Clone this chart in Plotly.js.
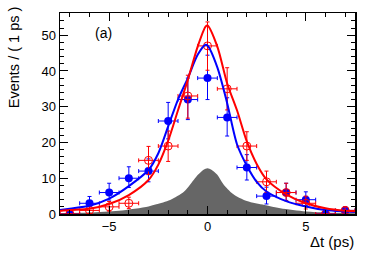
<!DOCTYPE html>
<html>
<head>
<meta charset="utf-8">
<script src="https://cdn.plot.ly/plotly-3.0.1.min.js"></script>
<style>html,body{margin:0;padding:0;background:#fff;}#chart{width:374px;height:255px;}</style>
</head>
<body>
<div id="chart"></div>
<script>
// Bin centres (ps)
const binCenters = [-7, -6, -5, -4, -3, -2, -1, 0, 1, 2, 3, 4, 5, 6, 7];
const binHalfWidth = 0.5;
// Blue (filled) data
const blueCounts  = [0, 3, 6, 10, 12, 26, 32, 38, 27, 13, 5, 6, 4, 0, 1];
const blueErrUp   = [0, 1.9, 2.6, 3.2, 3.4, 5.2, 6.0, 6.4, 5.5, 3.6, 2.5, 2.6, 2.2, 0, 1.0];
const blueErrDown = [0, 1.4, 2.1, 2.6, 3.0, 5.0, 5.6, 6.0, 5.2, 3.5, 2.2, 2.2, 1.6, 0, 0.6];
// Red (open) data
const redCounts   = [0, 1, 2, 3, 15, 19, 33, 47, 35, 19, 9, 6, 3, 0, 1];
const redErrUp    = [0, 1.3, 1.5, 1.7, 3.9, 4.2, 5.8, 6.7, 5.9, 4.0, 3.0, 2.6, 2.0, 0, 1.0];
const redErrDown  = [0, 0.8, 1.2, 1.5, 4.0, 4.3, 6.2, 6.8, 5.9, 4.0, 2.9, 2.3, 1.6, 0, 0.6];
// Fit curves
const curveX  = [-7.5, -7, -6, -5, -4, -3, -2.5, -2, -1.5, -1, -0.5, -0.1, 0, 0.5, 1, 1.5, 2, 2.5, 3, 4, 5, 6, 7, 7.5];
const blueFit = [1.1, 1.5, 2.3, 4.3, 7.8, 12.3, 17, 24.5, 32, 38, 44.5, 47.3, 47.1, 41, 31, 19.5, 13.5, 9, 6.3, 3.6, 2.1, 1.1, 0.7, 0.55];
const redFit  = [0.84, 1.1, 1.5, 2.8, 5.3, 9.5, 13.8, 20.5, 29, 37.5, 46.8, 52.4, 52.7, 46.8, 36.5, 29, 20.3, 14, 9.7, 5.5, 3.0, 1.6, 0.9, 0.75];
// Gray background distribution
const bgX = [-7.5, -6, -4.5, -3, -2.6, -1.9, -1.2, -0.9, -0.5, -0.2, 0, 0.2, 0.5, 0.8, 1.3, 2.0, 2.9, 3.7, 5, 6, 7.5];
const bgY = [0.2, 0.4, 0.9, 2.1, 2.7, 3.9, 6.2, 8.1, 10.9, 12.4, 12.8, 12.4, 11.0, 8.4, 5.6, 3.6, 2.5, 1.6, 0.7, 0.4, 0.2];

const font = 'Liberation Sans, Arial, sans-serif';
const traces = [
  {x: bgX, y: bgY, type: 'scatter', mode: 'lines', fill: 'tozeroy',
   line: {color: '#666666', width: 0, shape: 'spline', smoothing: 0.8},
   fillcolor: '#666666', hoverinfo: 'skip'},
  {x: binCenters, y: blueCounts, type: 'scatter', mode: 'markers',
   marker: {symbol: 'circle', size: 8, color: '#0000ff'},
   error_y: {type: 'data', array: blueErrUp, arrayminus: blueErrDown, color: '#0000ff', thickness: 1, width: 2},
   error_x: {type: 'constant', value: binHalfWidth, color: '#0000ff', thickness: 1, width: 2}},
  {x: binCenters, y: redCounts, type: 'scatter', mode: 'markers',
   marker: {symbol: 'circle-open', size: 8, color: '#ff0000', line: {width: 1}},
   error_y: {type: 'data', array: redErrUp, arrayminus: redErrDown, color: '#ff0000', thickness: 1, width: 2},
   error_x: {type: 'constant', value: binHalfWidth, color: '#ff0000', thickness: 1, width: 2}},
  {x: curveX, y: blueFit, type: 'scatter', mode: 'lines',
   line: {color: '#0000ff', width: 2, shape: 'spline', smoothing: 0.8}},
  {x: curveX, y: redFit, type: 'scatter', mode: 'lines',
   line: {color: '#ff0000', width: 2, shape: 'spline', smoothing: 0.8}}
];

const layout = {
  width: 374, height: 255,
  margin: {l: 60, r: 19, t: 13, b: 41},
  paper_bgcolor: '#fff', plot_bgcolor: '#fff',
  showlegend: false,
  font: {family: font, size: 13, color: '#000'},
  xaxis: {
    range: [-7.5, 7.5], tickvals: [-5, 0, 5], ticktext: ['\u22125', '0', '5'],
    ticks: 'inside', ticklen: 8, tickwidth: 1, tickcolor: '#000',
    minor: {dtick: 1, ticks: 'inside', ticklen: 4, tickcolor: '#000'},
    showline: true, linecolor: '#000', linewidth: 1.5, mirror: 'allticks',
    showgrid: false, zeroline: false, tickfont: {size: 13}
  },
  yaxis: {
    range: [0, 56.2], tickvals: [0, 10, 20, 30, 40, 50],
    ticks: 'inside', ticklen: 8, tickwidth: 1, tickcolor: '#000',
    minor: {dtick: 2, ticks: 'inside', ticklen: 4, tickcolor: '#000'},
    showline: true, linecolor: '#000', linewidth: 1.5, mirror: 'allticks',
    showgrid: false, zeroline: false, tickfont: {size: 13}
  },
  annotations: [
    {text: 'Events / ( 1 ps )', xref: 'paper', yref: 'paper', x: -0.155, y: 1.045,
     xanchor: 'center', yanchor: 'top', textangle: -90, showarrow: false, font: {size: 14.5}},
    {text: '\u0394t (ps)', xref: 'paper', yref: 'paper', x: 1.002, y: -0.135,
     xanchor: 'right', yanchor: 'middle', showarrow: false, font: {size: 15}},
    {text: '(a)', xref: 'paper', yref: 'paper', x: 0.113, y: 0.9,
     xanchor: 'left', yanchor: 'middle', showarrow: false, font: {size: 14}}
  ]
};
Plotly.newPlot('chart', traces, layout, {staticPlot: true, displayModeBar: false});
</script>
</body>
</html>
